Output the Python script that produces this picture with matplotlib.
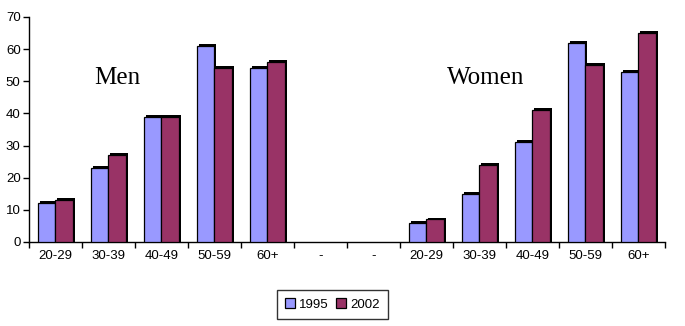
import numpy as np
import matplotlib.pyplot as plt

categories = ["20-29", "30-39", "40-49", "50-59", "60+", "-", "-",
              "20-29", "30-39", "40-49", "50-59", "60+"]
# NaN marks the empty spacer slots between the two groups
values_1995 = [12, 23, 39, 61, 54, np.nan, np.nan, 6, 15, 31, 62, 53]
values_2002 = [13, 27, 39, 54, 56, np.nan, np.nan, 7, 24, 41, 55, 65]
series_names = ["1995", "2002"]

col_1995 = "#9999FF"
col_2002 = "#993366"

fig = plt.figure(figsize=(6.85, 3.26), dpi=100)
ax = fig.add_axes([0.0423, 0.2577, 0.9285, 0.6903])

x = np.arange(len(categories))
w = 0.33
dx, dy = 0.035, 0.6   # offset of the black drop shadow

handles = []
for vals, col, off in ((values_1995, col_1995, -w / 2), (values_2002, col_2002, w / 2)):
    vals = np.array(vals, dtype=float)
    ax.bar(x + off + dx, vals + dy, width=w, color="black", zorder=2)
    h = ax.bar(x + off, vals, width=w, color=col, edgecolor="black",
               linewidth=0.9, zorder=3)
    handles.append(h)

ax.set_xlim(-0.5, len(categories) - 0.5)
ax.set_ylim(0, 70)
ax.set_yticks(range(0, 71, 10))
ax.set_xticks(x)
ax.set_xticklabels(categories)
ax.set_xticks(np.arange(-0.5, len(categories), 1.0), minor=True)
ax.tick_params(axis="x", which="major", length=0, pad=6)
ax.tick_params(axis="x", which="minor", length=4, width=1)
ax.tick_params(axis="y", length=4, width=1, pad=2)
for lab in ax.get_xticklabels() + ax.get_yticklabels():
    lab.set_fontfamily("Liberation Sans")
    lab.set_fontsize(9.5)

for s in ("top", "right"):
    ax.spines[s].set_visible(False)
ax.spines["left"].set_linewidth(1)
ax.spines["bottom"].set_linewidth(1)

ax.text(1.16, 51, "Men", fontfamily="Liberation Serif", fontsize=18,
        ha="center", va="center")
ax.text(8.12, 51, "Women", fontfamily="Liberation Serif", fontsize=18,
        ha="center", va="center")

leg = fig.legend([h[0] for h in handles], series_names, loc="center",
                 bbox_to_anchor=(0.485, 0.066), ncol=2, frameon=True,
                 fancybox=False, edgecolor="black", handlelength=0.8,
                 handleheight=0.8, handletextpad=0.3, columnspacing=0.5,
                 borderpad=0.6, prop={"family": "Liberation Sans", "size": 9.5})
leg.get_frame().set_linewidth(1)

fig.savefig("out.png", dpi=100)
